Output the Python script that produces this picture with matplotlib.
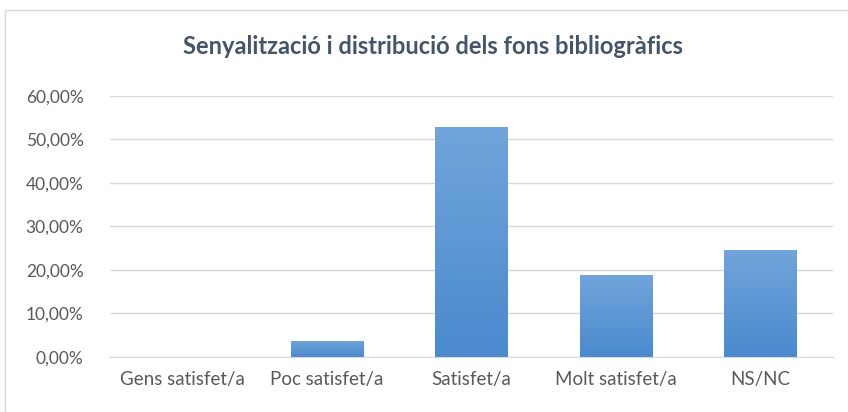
import matplotlib.pyplot as plt
import numpy as np
from matplotlib.patches import Rectangle
from matplotlib.colors import LinearSegmentedColormap

categories = ['Gens satisfet/a', 'Poc satisfet/a', 'Satisfet/a', 'Molt satisfet/a', 'NS/NC']
values = [0.0, 0.037, 0.529, 0.189, 0.245]
yticks = [0.0, 0.1, 0.2, 0.3, 0.4, 0.5, 0.6]
ytick_labels = ['0,00%', '10,00%', '20,00%', '30,00%', '40,00%', '50,00%', '60,00%']

plt.rcParams['font.family'] = ['Lato', 'DejaVu Sans']

fig = plt.figure(figsize=(8.48, 4.12), dpi=100)
ax = fig.add_axes([0.1297, 0.1335, 0.8523, 0.6335])

# outer chart frame
fig.add_artist(Rectangle((5 / 848, -0.01), 1.0, 1 - 10 / 412 + 0.01, transform=fig.transFigure,
                         fill=False, edgecolor='#D9D9D9', linewidth=1))

x = np.arange(len(categories))
bars = ax.bar(x, values, width=0.5, color='#5B9BD5', zorder=2)

cmap = LinearSegmentedColormap.from_list('grad', ['#4A8ACD', '#71A5DB'])
grad = np.linspace(0, 1, 256).reshape(-1, 1)
for b in bars:
    h = b.get_height()
    if h <= 0:
        continue
    x0 = b.get_x()
    w = b.get_width()
    im = ax.imshow(grad, cmap=cmap, origin='lower', aspect='auto',
                   extent=[x0, x0 + w, 0, h], zorder=3)
    im.set_clip_path(b)

ax.set_xlim(-0.5, len(categories) - 0.5)
ax.set_ylim(0, 0.6)
ax.set_yticks(yticks)
ax.set_yticklabels(ytick_labels)
ax.set_xticks(x)
ax.set_xticklabels(categories)
ax.yaxis.grid(True, color='#D9D9D9', linewidth=1, zorder=0)
ax.set_axisbelow(True)
for s in ['top', 'right', 'left']:
    ax.spines[s].set_visible(False)
ax.spines['bottom'].set_color('#D9D9D9')
ax.tick_params(axis='both', length=0, colors='#595959')
ax.tick_params(axis='y', pad=19, labelsize=12.5)
ax.tick_params(axis='x', pad=10, labelsize=13.5)

fig.text(0.511, 1 - 47 / 412, 'Senyalització i distribució dels fons bibliogràfics',
         ha='center', va='center', fontsize=17, fontweight='bold', color='#44546A')

fig.savefig('out.png', dpi=100)
